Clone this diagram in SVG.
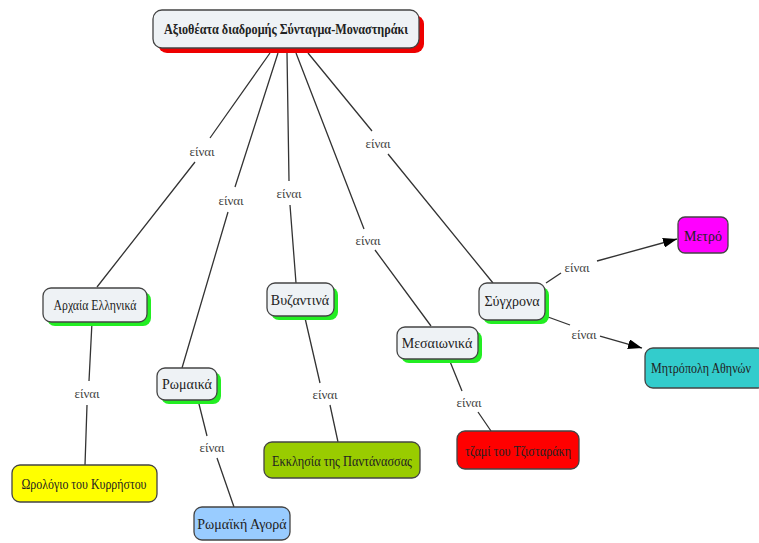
<svg xmlns="http://www.w3.org/2000/svg" width="759" height="543" viewBox="0 0 759 543">
<defs>
<style>
text{font-family:"Liberation Serif","DejaVu Serif",serif;fill:#222;text-anchor:middle;dominant-baseline:central}
.t{font-size:14px}
.root{font-size:14px;font-weight:bold}
.lbl{font-size:13px;fill:#444}
.box{fill:#eef2f5;stroke:#444;stroke-width:1.3}
.sh{fill:#22ee22}
.cb{stroke:#444;stroke-width:1.3}
.ln{stroke:#333;stroke-width:1.3;fill:none}
</style>
<marker id="ah" viewBox="0 0 14 10" refX="14" refY="5" markerWidth="14" markerHeight="10" markerUnits="userSpaceOnUse" orient="auto">
<path d="M0,0 L14,5 L0,10 z" fill="#000"/>
</marker>
</defs>
<rect width="759" height="543" fill="#fff"/>
<g id="connectors">
<path class="ln" d="M270,53 L210,138 M195,162 L97,287"/>
<path class="ln" d="M278,53 L235,187 M228,212 L182,368"/>
<path class="ln" d="M287,53 L289,181 M290,205 L296,283"/>
<path class="ln" d="M296,53 L364,229 M375,250 L431,326"/>
<path class="ln" d="M308,53 L372,131 M388,154 L493,283"/>
<path class="ln" d="M92,322 L89,381 M87,405 L85,465"/>
<path class="ln" d="M198,400 L207,436 M217,458 L234,507"/>
<path class="ln" d="M305,318 L320,383 M330,405 L338,442"/>
<path class="ln" d="M449,359 L462,391 M478,412 L491,431"/>
<path class="ln" d="M546,283 L561,273"/>
<path class="ln" d="M597,261 L677,239" marker-end="url(#ah)"/>
<path class="ln" d="M548,317 L570,325"/>
<path class="ln" d="M600,336 L642,348" marker-end="url(#ah)"/>
<text class="lbl" x="202" y="151">είναι</text>
<text class="lbl" x="231" y="200">είναι</text>
<text class="lbl" x="289" y="193">είναι</text>
<text class="lbl" x="368" y="240">είναι</text>
<text class="lbl" x="378" y="143">είναι</text>
<text class="lbl" x="87" y="393">είναι</text>
<text class="lbl" x="212" y="447">είναι</text>
<text class="lbl" x="325" y="394">είναι</text>
<text class="lbl" x="469" y="402">είναι</text>
<text class="lbl" x="577" y="267">είναι</text>
<text class="lbl" x="584" y="334">είναι</text>
</g>
<g id="root">
<rect x="158" y="15" width="266" height="38" rx="9" fill="#ee0000"/>
<rect class="box" x="153" y="10" width="266" height="38" rx="9"/>
<text class="root" x="286" y="29" textLength="244" lengthAdjust="spacingAndGlyphs">Αξιοθέατα διαδρομής Σύνταγμα-Μοναστηράκι</text>
</g>
<g id="archaia">
<rect class="sh" x="47" y="292" width="104" height="34" rx="8"/>
<rect class="box" x="43" y="288" width="104" height="34" rx="8"/>
<text class="t" x="95" y="305" textLength="83" lengthAdjust="spacingAndGlyphs">Αρχαία Ελληνικά</text>
</g>
<g id="romaika">
<rect class="sh" x="161" y="372" width="60" height="32" rx="8"/>
<rect class="box" x="157" y="368" width="60" height="32" rx="8"/>
<text class="t" x="187" y="384">Ρωμαικά</text>
</g>
<g id="vyzantina">
<rect class="sh" x="271" y="287" width="67" height="33" rx="8"/>
<rect class="box" x="267" y="283" width="67" height="33" rx="8"/>
<text class="t" x="300" y="300">Βυζαντινά</text>
</g>
<g id="mesaionika">
<rect class="sh" x="401" y="331" width="81" height="32" rx="8"/>
<rect class="box" x="397" y="327" width="81" height="32" rx="8"/>
<text class="t" x="437" y="343">Μεσαιωνικά</text>
</g>
<g id="synchrona">
<rect class="sh" x="483" y="287" width="66" height="37" rx="8"/>
<rect class="box" x="479" y="283" width="66" height="37" rx="8"/>
<text class="t" x="512" y="301">Σύγχρονα</text>
</g>
<g id="metro">
<rect class="cb" x="678" y="217" width="50" height="36" rx="7" fill="#ff00ff"/>
<text class="t" x="703" y="236">Μετρό</text>
</g>
<g id="mitropoli">
<rect class="cb" x="645" y="348" width="120" height="40" rx="8" fill="#33cccc"/>
<text class="t" x="701" y="368" textLength="100" lengthAdjust="spacingAndGlyphs">Μητρόπολη Αθηνών</text>
</g>
<g id="orologio">
<rect class="cb" x="12" y="465" width="145" height="37" rx="8" fill="#ffff00"/>
<text class="t" x="84" y="484" textLength="125" lengthAdjust="spacingAndGlyphs">Ωρολόγιο του Κυρρήστου</text>
</g>
<g id="romaiki-agora">
<rect class="cb" x="194" y="507" width="96" height="33" rx="8" fill="#99ccff"/>
<text class="t" x="242" y="524">Ρωμαϊκή Αγορά</text>
</g>
<g id="ekklisia">
<rect class="cb" x="264" y="442" width="156" height="36" rx="8" fill="#99cc00"/>
<text class="t" x="342" y="461" textLength="140" lengthAdjust="spacingAndGlyphs">Εκκλησία της Παντάνασσας</text>
</g>
<g id="tzami">
<rect class="cb" x="457" y="431" width="122" height="38" rx="8" fill="#ff0000"/>
<text class="t" x="518" y="451" textLength="106" lengthAdjust="spacingAndGlyphs">τζαμί του Τζισταράκη</text>
</g>
</svg>
